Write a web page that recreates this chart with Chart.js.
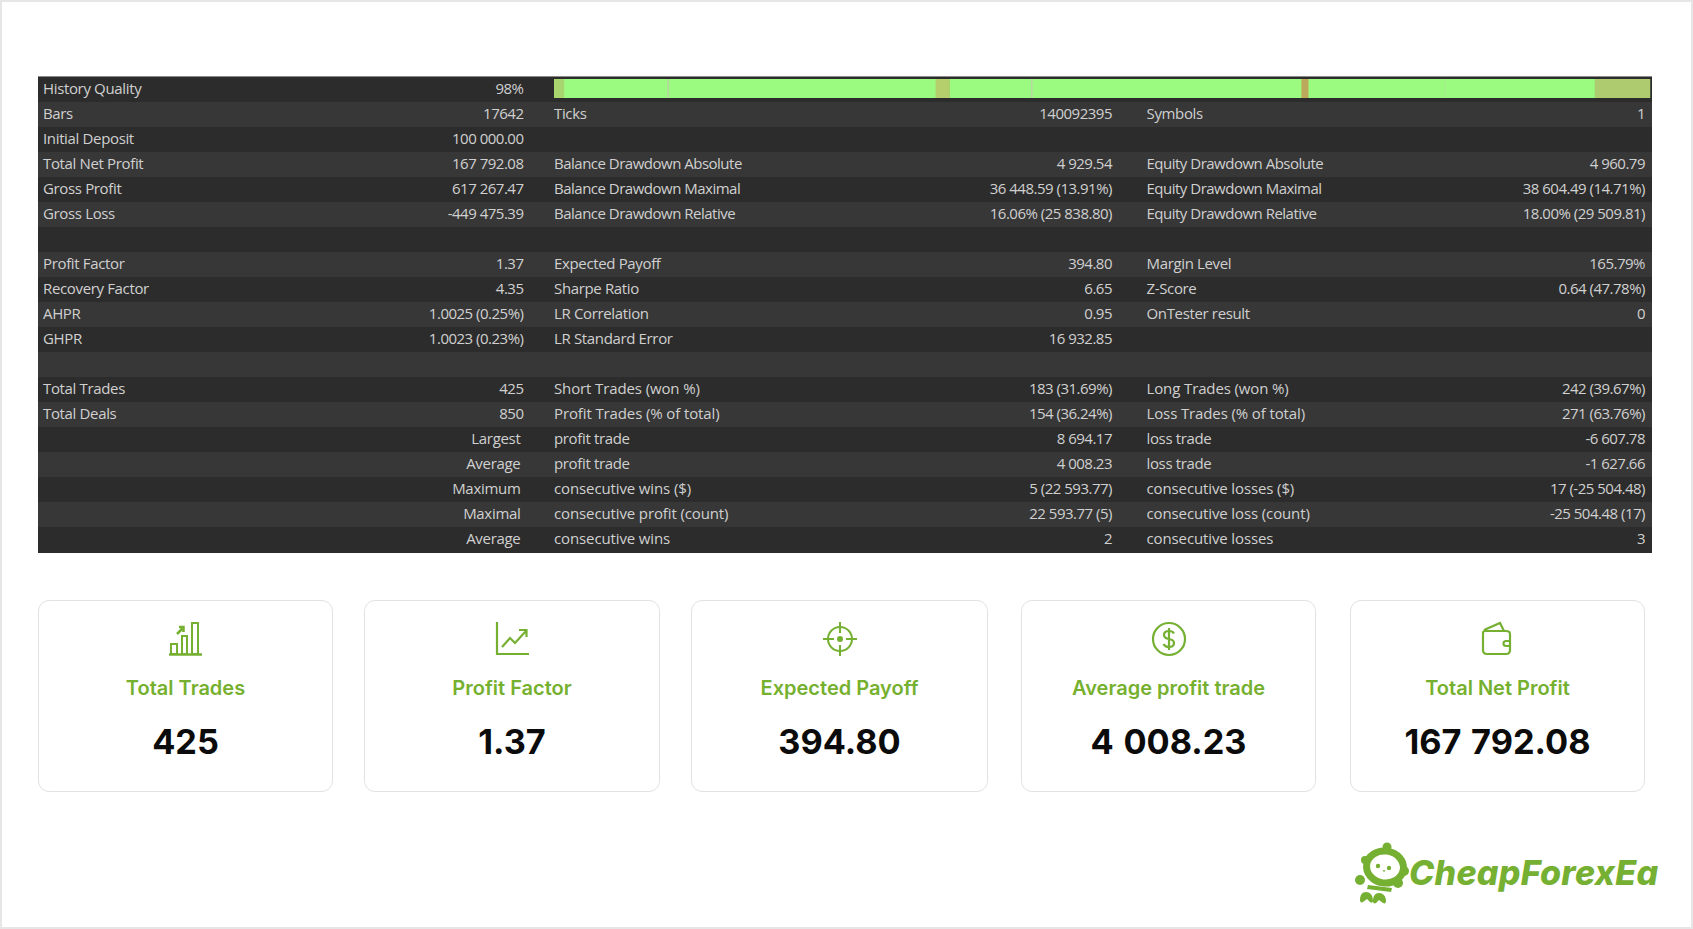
<!DOCTYPE html>
<html><head><meta charset="utf-8">
<script src="https://cdn.jsdelivr.net/npm/chart.js@4"></script>
<style>
html,body{margin:0;padding:0;background:#fff;width:1693px;height:929px;overflow:hidden;font-family:"Open Sans",sans-serif}
#frame{position:absolute;left:0;top:0;width:1693px;height:929px;box-sizing:border-box;border:2px solid #e6e6e6}
#tbl{position:absolute;left:38px;top:77px;width:1614px;height:476px;background:#2c2c2c;box-shadow:0 -1px 0 #8a8a8a}
.row{position:absolute;left:0;width:1614px}
.t{position:absolute;top:0;line-height:23px;font-size:15px;color:#d0d0d0;white-space:nowrap}
#qwrap{position:absolute;left:554px;top:79px;width:1097px;height:19px}
.card{position:absolute;top:600px;height:190px;border:1.5px solid #e2e2e2;border-radius:11px;background:#fff;box-sizing:content-box}
.card svg{position:absolute;left:50%;top:20px;transform:translateX(-50%)}
.lab{position:absolute;left:0;right:0;top:75px;text-align:center;font:600 20px Inter,sans-serif;color:#76b02f}
.val{position:absolute;left:0;right:0;top:120px;text-align:center;font:700 34.3px Inter,sans-serif;color:#0b0b0b;word-spacing:1.5px}
#logo{position:absolute;left:1409px;top:851px;font:italic 800 34px Inter,sans-serif;color:#76b033;letter-spacing:.25px;line-height:44px}
#masc{position:absolute;left:1353px;top:841px}
</style></head><body>
<div id="frame"></div>
<div id="tbl"></div>
<div id="qwrap"><canvas id="q"></canvas></div>
<div id="cards"></div>
<svg id="masc" width="58" height="64" viewBox="0 0 58 64">
 <g fill="#76b033">
  <circle cx="34" cy="6" r="4.500"/><circle cx="12" cy="19" r="4"/><circle cx="51" cy="30" r="5"/>
  <circle cx="45" cy="42" r="5"/><circle cx="7" cy="39" r="5"/>
  <path d="M13 51c4 0 7 3 7 9 0 2-2 2-3 1l-3-3-4 3c-2 1-3 0-3-2 0-5 2-8 6-8zM26 52c4 0 7 3 7 8 0 2-1 3-3 2l-4-3-3 3c-2 1-3 0-3-2 0-5 2-8 6-8z"/>
  <path d="M15 44l24 3-1 4-24-3z"/>
 </g>
 <ellipse cx="32" cy="26" rx="18.500" ry="16" fill="#fff" stroke="#76b033" stroke-width="7" transform="rotate(8 32 26)"/>
 <circle cx="25" cy="25" r="2.200" fill="#76b033"/><circle cx="36" cy="27" r="2.200" fill="#76b033"/>
 <path d="M30 29.500q1 1 2 0" stroke="#76b033" stroke-width="1.200" fill="none"/>
</svg>
<div id="logo">CheapForexEa</div>
<script>
// Report table, one list per column pair
const rowsCol1 = [["History Quality","98%"],["Bars","17642"],["Initial Deposit","100 000.00"],["Total Net Profit","167 792.08"],["Gross Profit","617 267.47"],["Gross Loss","-449 475.39"],["",""],["Profit Factor","1.37"],["Recovery Factor","4.35"],["AHPR","1.0025 (0.25%)"],["GHPR","1.0023 (0.23%)"],["",""],["Total Trades","425"],["Total Deals","850"],["",""],["",""],["",""],["",""],["",""]];
const rowHeads = {14:"Largest",15:"Average",16:"Maximum",17:"Maximal",18:"Average"};
const rowsCol2 = [["",""],["Ticks","140092395"],["",""],["Balance Drawdown Absolute","4 929.54"],["Balance Drawdown Maximal","36 448.59 (13.91%)"],["Balance Drawdown Relative","16.06% (25 838.80)"],["",""],["Expected Payoff","394.80"],["Sharpe Ratio","6.65"],["LR Correlation","0.95"],["LR Standard Error","16 932.85"],["",""],["Short Trades (won %)","183 (31.69%)"],["Profit Trades (% of total)","154 (36.24%)"],["profit trade","8 694.17"],["profit trade","4 008.23"],["consecutive wins ($)","5 (22 593.77)"],["consecutive profit (count)","22 593.77 (5)"],["consecutive wins","2"]];
const rowsCol3 = [["",""],["Symbols","1"],["",""],["Equity Drawdown Absolute","4 960.79"],["Equity Drawdown Maximal","38 604.49 (14.71%)"],["Equity Drawdown Relative","18.00% (29 509.81)"],["",""],["Margin Level","165.79%"],["Z-Score","0.64 (47.78%)"],["OnTester result","0"],["",""],["",""],["Long Trades (won %)","242 (39.67%)"],["Loss Trades (% of total)","271 (63.76%)"],["loss trade","-6 607.78"],["loss trade","-1 627.66"],["consecutive losses ($)","17 (-25 504.48)"],["consecutive loss (count)","-25 504.48 (17)"],["consecutive losses","3"]];
// History quality strip: share of bar width per segment (%)
const qualityShares = [0.9,9.4,0.15,24.3,1.3,7.4,0.15,24.5,0.65,12.4,0.1,13.6,5.05];
const qualityColors = ["#a9d56f","#9bfb80","#b9d9a0","#9bfb80","#b4cf6c","#9bfb80","#b9d9a0","#9bfb80","#bda95c","#9bfb80","#a8eb8c","#9bfb80","#aecb70"];
// Summary cards
const cardLabels = ["Total Trades","Profit Factor","Expected Payoff","Average profit trade","Total Net Profit"];
const cardValues = ["425","1.37","394.80","4 008.23","167 792.08"];
const cardLefts = [38,364,691,1021,1350];
const cardWidths = [293,294,295,293,293];

const G="#76b033";
const icons=[
`<svg width="36" height="36" viewBox="0 0 36 36" fill="none" stroke="${G}" stroke-width="2"><rect x="3" y="23" width="6" height="10"/><rect x="14" y="15" width="5" height="18"/><rect x="24" y="2" width="6" height="31"/><path d="M1 33.500h33" stroke-width="2.500"/><path d="M9 13l6-6M11 6h4.500v5" stroke-width="2.500"/></svg>`,
`<svg width="36" height="36" viewBox="0 0 36 36" fill="none" stroke="${G}" stroke-width="2.200"><path d="M3 1v32h32"/><path d="M8 26l8-9 5 5 11-12M25 9h7.500v7"/></svg>`,
`<svg width="36" height="36" viewBox="0 0 36 36" fill="none" stroke="${G}" stroke-width="2"><circle cx="18" cy="18" r="12"/><path d="M18 1v11M18 24v11M1 18h11M24 18h11"/><circle cx="18" cy="18" r="2" fill="${G}"/></svg>`,
`<svg width="36" height="36" viewBox="0 0 36 36" fill="none" stroke="${G}" stroke-width="2.200"><circle cx="18" cy="18" r="16"/><path d="M23 12.500c-1-2-3-2.500-5-2.500-3 0-5 1.500-5 4s2 3.500 5 4 5 1.500 5 4-2 4-5 4c-2.500 0-4.500-1-5.500-3M18 7v22"/></svg>`,
`<svg width="36" height="36" viewBox="0 0 36 36" fill="none" stroke="${G}" stroke-width="2.200"><path d="M3 12v17c0 2 1 4 4 4h19c2 0 4-1 4-4V13c0-2-2-3-4-3H5c-1 0-2 1-2 2zM4 9L20 2l4 8"/><path d="M30 20h-4a2 2 0 0 0 0 5h4"/></svg>`];

const tbl=document.getElementById('tbl');
const X={l1:5,r1:485.5,l2:516,r2:1074,l3:1108.5,r3:1607,rh:482.5};
function spacingFor(txt,right){
  if(right) return '-.5px';
  if(/Drawdown/.test(txt)) return '-.5px';
  if(/^consecutive|\(/.test(txt)) return '-.12px';
  return '-.35px';
}
function put(row,txt,key,right,isHead){ if(!txt) return;
  const s=document.createElement('div'); s.className='t'; s.textContent=txt;
  s.style.letterSpacing=isHead?'-.3px':spacingFor(txt,right);
  if(right) s.style.right=(1614-X[key])+'px'; else s.style.left=X[key]+'px';
  row.appendChild(s);}
rowsCol1.forEach((r,i)=>{
  const row=document.createElement('div'); row.className='row';
  row.style.top=(i*25)+'px'; row.style.height=(i===18?26:25)+'px'; row.style.background=i%2?'#373737':'#2c2c2c';
  put(row,r[0],'l1'); put(row,r[1],'r1',true);
  if(rowHeads[i]) put(row,rowHeads[i],'rh',true,true);
  put(row,rowsCol2[i][0],'l2'); put(row,rowsCol2[i][1],'r2',true);
  put(row,rowsCol3[i][0],'l3'); put(row,rowsCol3[i][1],'r3',true);
  tbl.appendChild(row);
});
const cards=document.getElementById('cards');
cardLabels.forEach((l,i)=>{
  const c=document.createElement('div'); c.className='card';
  c.style.left=cardLefts[i]+'px'; c.style.width=cardWidths[i]+'px';
  c.innerHTML=icons[i]+`<div class="lab">${l}</div><div class="val">${cardValues[i]}</div>`;
  cards.appendChild(c);
});
// quality strip drawn by Chart.js as a single stacked horizontal bar
new Chart(document.getElementById('q'),{
  type:'bar',
  data:{labels:["History Quality"],datasets:qualityShares.map((v,i)=>({data:[v],backgroundColor:qualityColors[i],borderWidth:0,barPercentage:1,categoryPercentage:1}))},
  options:{indexAxis:'y',responsive:true,maintainAspectRatio:false,animation:false,
    layout:{padding:0},
    plugins:{legend:{display:false},tooltip:{enabled:false}},
    scales:{x:{stacked:true,display:false,min:0,max:100},y:{stacked:true,display:false}}}
});
</script>
</body></html>
